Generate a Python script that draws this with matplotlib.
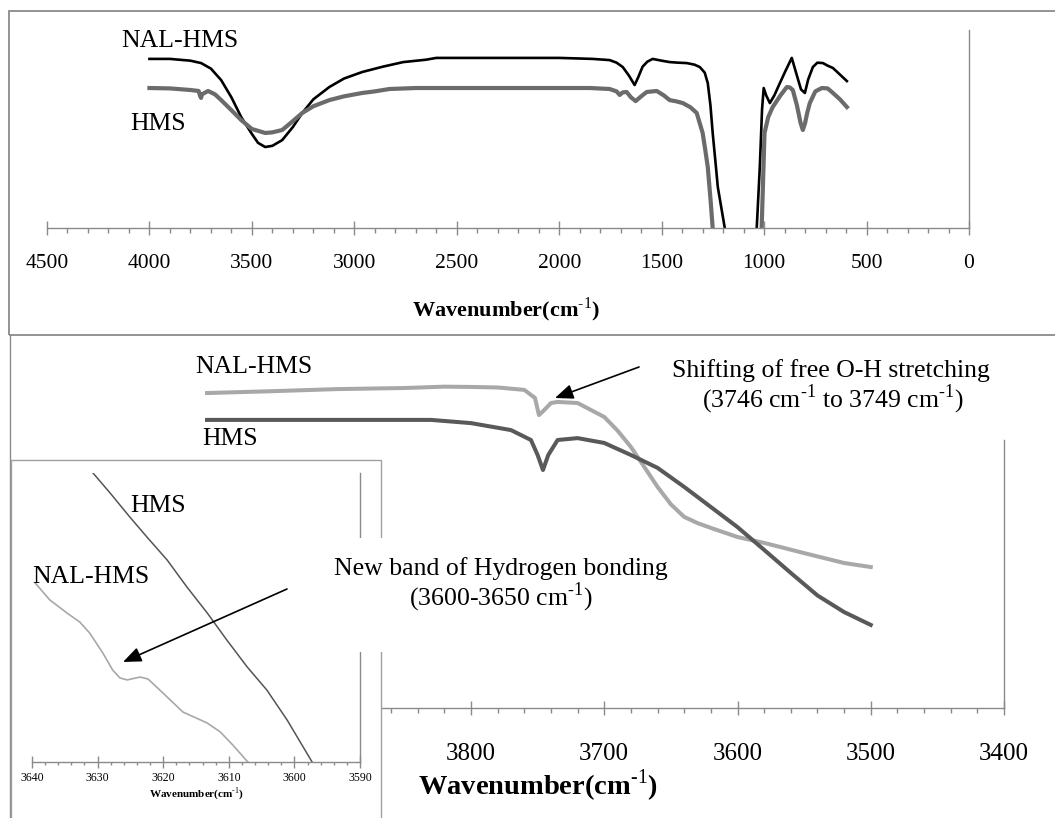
import matplotlib
matplotlib.use("Agg")
import matplotlib.pyplot as plt
from matplotlib.patches import Rectangle, FancyArrowPatch
from matplotlib.lines import Line2D
from matplotlib.ticker import MultipleLocator

plt.rcParams["font.family"] = "Liberation Serif"
plt.rcParams["mathtext.fontset"] = "custom"
plt.rcParams["mathtext.rm"] = "Liberation Serif"
plt.rcParams["mathtext.bf"] = "Liberation Serif:bold"

# full spectrum (top panel), transmittance-like units
nal_full_wn = [4000, 3900, 3800, 3748, 3700, 3650, 3600, 3552, 3500, 3470, 3435, 3400, 3352, 3300,
               3254, 3200, 3122, 3050, 2961, 2860, 2761, 2650, 2600, 2300, 2000, 1900, 1837, 1754,
               1720, 1690, 1660, 1632, 1615, 1593, 1570, 1544, 1500, 1461, 1420, 1378, 1340, 1314,
               1290, 1275, 1262, 1251, 1238, 1226, 1192, 1150, 1100, 1060, 1036, 1021, 1010, 1002,
               990, 972, 950, 923, 895, 865, 840, 820, 801, 785, 762, 740, 713, 690, 664, 630, 596]
nal_full_t = [85.4, 85.4, 84.5, 83.3, 80.5, 74.7, 66, 56, 47.5, 43, 40.9, 41.5, 44.4, 51,
              58.1, 65, 71.2, 75.5, 78.8, 81.5, 83.8, 85, 85.9, 85.9, 85.9, 85.6, 85.4, 84.8,
              83.5, 81.3, 77, 72.2, 76, 81.5, 84, 85.4, 84.5, 83.8, 83.5, 83.3, 82.5, 81.3,
              78.5, 73.2, 62, 48, 34, 20.7, 0, -30, -40, -20, 0, 30.8, 60, 70.7,
              67, 63.1, 67, 73.2, 79.5, 85.9, 77, 70, 68.2, 75, 81.3, 83.5, 83.3, 82, 80.8, 77.5, 74.2]

hms_full_wn = [4000, 3900, 3800, 3760, 3752, 3748, 3744, 3714, 3680, 3650, 3600, 3552, 3500, 3435,
               3400, 3352, 3300, 3254, 3200, 3122, 3050, 2961, 2900, 2829, 2697, 2000, 1850, 1754,
               1720, 1705, 1690, 1671, 1650, 1627, 1600, 1573, 1524, 1490, 1461, 1430, 1397, 1360,
               1329, 1300, 1288, 1275, 1262, 1251, 1200, 1100, 1030, 1012, 998, 980, 958, 920, 889,
               875, 860, 840, 822, 811, 800, 790, 777, 750, 718, 690, 664, 630, 596]
hms_full_t = [70.7, 70.5, 69.7, 69.2, 66.5, 65.7, 67.5, 69.2, 67.5, 64.6, 59.5, 54.5, 50, 48,
              48.3, 49.5, 54, 58.1, 61.5, 64.6, 66.5, 68.2, 69, 70.2, 70.7, 70.7, 70.7, 70.2,
              69, 67.2, 68.5, 68.7, 66, 64.1, 66.5, 68.7, 69.2, 67, 64.6, 64, 63.1, 61,
              58.1, 48, 40, 30.8, 15, 0, -40, -50, -30, 0, 48, 56, 61.1, 67, 71.2,
              71, 69.7, 62, 53, 49.5, 53, 58, 63.1, 69, 70.7, 70.5, 68.2, 65, 61.1]

# O-H region (bottom panel)
nal_oh_wn = [4000, 3950, 3900, 3850, 3820, 3800, 3780, 3760, 3752, 3749, 3745, 3740, 3735, 3720,
             3700, 3690, 3680, 3670, 3660, 3650, 3640, 3630, 3620, 3600, 3580, 3550, 3520, 3500]
nal_oh_t = [117.5, 118.2, 119.0, 119.4, 119.9, 119.8, 119.6, 118.7, 115.7, 109.3, 111.2, 113.8, 114.2, 113.8,
            108.6, 103.5, 97.4, 90.0, 82.5, 76.0, 71.3, 69.0, 67.2, 63.8, 61.6, 57.8, 54.1, 52.6]
hms_oh_wn = [4000, 3900, 3830, 3800, 3770, 3755, 3750, 3746, 3742, 3735, 3720, 3700, 3680, 3660,
             3640, 3620, 3600, 3580, 3560, 3540, 3520, 3500]
hms_oh_t = [107.5, 107.5, 107.5, 106.3, 103.7, 100, 94.4, 88.8, 94.4, 100, 100.7, 98.9, 94.4, 89.6,
            82.5, 75, 67.5, 59, 50.4, 42.0, 35.8, 31]

# hydrogen bonding region (inset)
hms_hb_wn = [3630.7, 3628.1, 3625.1, 3622.5, 3619.4, 3616.4, 3613.3, 3610.3, 3607.2, 3604.2, 3601.1, 3597.3]
hms_hb_t = [100, 93.1, 84.8, 77.9, 69.9, 60.6, 51.6, 42.2, 32.9, 24.9, 14.5, 0]
nal_hb_wn = [3639.5, 3637.3, 3634.7, 3632.7, 3631.2, 3629.2, 3627.7, 3626.6, 3625.5, 3623.5, 3622.3,
             3619.4, 3617.0, 3613.3, 3611.3, 3609.4, 3607.1]
nal_hb_t = [61.9, 56.1, 51.6, 48.4, 44.6, 37.7, 31.8, 29.1, 28.4, 29.4, 28.7,
            22.5, 17.3, 13.5, 10.4, 5.9, 0]

W, H = 1055, 818
GRAY = "#8a8a8a"
INV = r"cm$^{\text{-1}}$"


def fx(px):
    return px / W


def fy(py):
    return 1 - py / H


def style_axis(ax, major, minor, size, pad, major_len=10, minor_len=3.5):
    for s in ["left", "top"]:
        ax.spines[s].set_visible(False)
    for s in ["bottom", "right"]:
        ax.spines[s].set_color(GRAY)
        ax.spines[s].set_linewidth(1.0)
    ax.set_yticks([])
    ax.xaxis.set_major_locator(MultipleLocator(major))
    ax.xaxis.set_minor_locator(MultipleLocator(minor))
    ax.tick_params(axis="x", which="major", direction="inout", length=major_len, width=1.0,
                   color=GRAY, labelsize=size, pad=pad)
    ax.tick_params(axis="x", which="minor", direction="out", length=minor_len, width=1.0, color=GRAY)
    ax.patch.set_visible(False)


fig = plt.figure(figsize=(W / 100, H / 100), dpi=100)

# top panel: full spectrum
ax1 = fig.add_axes([fx(47), fy(228), fx(969) - fx(47), (228 - 30) / H])
ax1.plot(nal_full_wn, nal_full_t, color="black", lw=1.9, solid_joinstyle="round")
ax1.plot(hms_full_wn, hms_full_t, color="#6b6b6b", lw=3.0, solid_joinstyle="round")
ax1.set_xlim(4500, 0)
ax1.set_ylim(0, 100)
style_axis(ax1, 500, 100, 15.5, 14)

# bottom panel: O-H region
ax2 = fig.add_axes([fx(204.5), fy(708), fx(1004) - fx(204.5), (708 - 373) / H])
ax2.plot(nal_oh_wn, nal_oh_t, color="#a8a8a8", lw=2.9, solid_joinstyle="round")
ax2.plot(hms_oh_wn, hms_oh_t, color="#595959", lw=2.9, solid_joinstyle="round")
ax2.set_xlim(4000, 3400)
ax2.set_ylim(0, 125)
style_axis(ax2, 100, 20, 18, 20)
ax2.spines["right"].set_bounds(0, 100)

# frames
fig.add_artist(Rectangle((fx(9), fy(335)), fx(1062) - fx(9), (335 - 11) / H, transform=fig.transFigure,
                         fill=False, edgecolor=GRAY, lw=1.3, zorder=1))
fig.add_artist(Line2D([fx(9.5), fx(9.5)], [fy(335), fy(820)], transform=fig.transFigure,
                      color=GRAY, lw=1.0, zorder=1))
fig.add_artist(Rectangle((fx(11), fy(825)), fx(381) - fx(11), (825 - 460) / H, transform=fig.transFigure,
                         facecolor="white", edgecolor="#a0a0a0", lw=1.0, zorder=1))

# inset: hydrogen bonding region
ax3 = fig.add_axes([fx(32), fy(762), fx(360) - fx(32), (762 - 473) / H])
ax3.set_zorder(2)
ax3.plot(nal_hb_wn, nal_hb_t, color="#a8a8a8", lw=1.2)
ax3.plot(hms_hb_wn, hms_hb_t, color="#555555", lw=1.1)
ax3.set_xlim(3640, 3590)
ax3.set_ylim(0, 100)
style_axis(ax3, 10, 2, 8.5, 2.5, major_len=9, minor_len=2.5)

# white box behind the hydrogen-bond note
fig.add_artist(Rectangle((fx(345), fy(652)), fx(690) - fx(345), (652 - 538) / H, transform=fig.transFigure,
                         facecolor="white", edgecolor="none", zorder=3))

# labels
lab = dict(fontsize=18.5, va="baseline", zorder=5)
fig.text(fx(121), fy(47), "NAL-HMS", ha="left", **lab)
fig.text(fx(130), fy(130), "HMS", ha="left", **lab)
fig.text(fx(195), fy(373), "NAL-HMS", ha="left", **lab)
fig.text(fx(202), fy(445), "HMS", ha="left", **lab)
fig.text(fx(130), fy(512), "HMS", ha="left", **lab)
fig.text(fx(32), fy(583), "NAL-HMS", ha="left", **lab)

fig.text(fx(831), fy(377), "Shifting of free O-H stretching", ha="center", **lab)
fig.text(fx(833), fy(407), "(3746 " + INV + " to 3749 " + INV + ")", ha="center", **lab)
fig.text(fx(501), fy(575), "New band of Hydrogen bonding", ha="center", **lab)
fig.text(fx(501), fy(605), "(3600-3650 " + INV + ")", ha="center", **lab)

XLAB = r"Wavenumber(cm$^{\mathbf{\text{-1}}}$)"
fig.text(fx(506), fy(316), XLAB, ha="center", va="baseline", fontsize=16, fontweight="bold")
fig.text(fx(538), fy(795), XLAB, ha="center", va="baseline", fontsize=20.5, fontweight="bold", zorder=5)
fig.text(fx(196), fy(797), XLAB, ha="center", va="baseline", fontsize=8, fontweight="bold", zorder=5)

# arrows
for tail, head in [((639, 367), (555, 398)), ((287, 589), (123, 662))]:
    fig.add_artist(FancyArrowPatch((fx(tail[0]), fy(tail[1])), (fx(head[0]), fy(head[1])),
                                   transform=fig.transFigure,
                                   arrowstyle="-|>,head_length=1.1,head_width=0.45",
                                   mutation_scale=10, color="black", lw=1.2,
                                   shrinkA=0, shrinkB=0, zorder=6))

fig.savefig("out.png", dpi=100)
